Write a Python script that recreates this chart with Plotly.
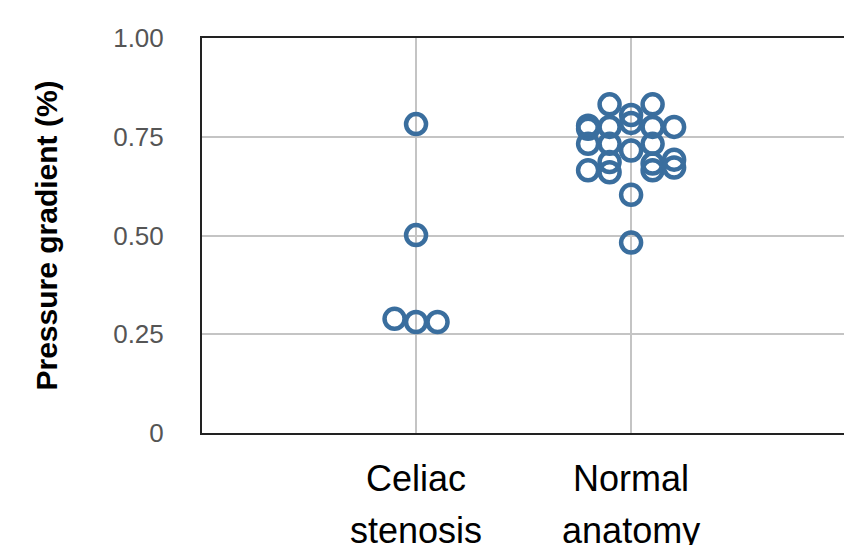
import plotly.graph_objects as go

# ---- data ----
categories = ["Celiac", "Normal"]
categories_line2 = ["stenosis", "anatomy"]

celiac_values = [0.782, 0.501, 0.289, 0.281, 0.281]
celiac_slots = [0, 0, -1, 0, 1]

normal_values = [0.805, 0.785, 0.715, 0.603, 0.482,
                 0.832, 0.775, 0.732, 0.686, 0.660,
                 0.832, 0.775, 0.732, 0.682, 0.665,
                 0.778, 0.770, 0.732, 0.665,
                 0.775, 0.692, 0.672]
normal_slots = [0, 0, 0, 0, 0,
                -1, -1, -1, -1, -1,
                1, 1, 1, 1, 1,
                -2, -2, -2, -2,
                2, 2, 2]

y_ticks = [0, 0.25, 0.5, 0.75, 1.0]
y_ticklabels = ["0", "0.25", "0.50", "0.75", "1.00"]

SLOT_W = 0.1
COLOR = "#3a6e9e"

fig = go.Figure()
for i, (vals, slots) in enumerate([(celiac_values, celiac_slots), (normal_values, normal_slots)]):
    fig.add_trace(go.Scatter(
        x=[i + 1 + s * SLOT_W for s in slots],
        y=vals,
        mode="markers",
        marker=dict(symbol="circle-open", size=20, color=COLOR, line=dict(width=4.5, color=COLOR)),
        showlegend=False,
        hoverinfo="y",
    ))

ticktext = [f"<span style='font-size:36px'>{a}</span><br><span style='font-size:36px'>{b}</span>"
            for a, b in zip(categories, categories_line2)]

fig.update_layout(
    width=844, height=545, autosize=False,
    margin=dict(l=202, r=0, t=38, b=112),
    plot_bgcolor="white", paper_bgcolor="white",
    font=dict(family="Liberation Sans, Arial, sans-serif"),
    xaxis=dict(
        range=[0.0047, 2.99],
        tickmode="array", tickvals=[1, 2], ticktext=ticktext,
        tickfont=dict(size=40, color="black"),
        showgrid=True, gridcolor="#c4c4c4", gridwidth=1.5,
        showline=True, linecolor="#222", linewidth=2, mirror=True,
        ticks="", ticklabelstandoff=8,
        zeroline=False, automargin=False,
    ),
    yaxis=dict(
        range=[0, 1],
        tickmode="array", tickvals=y_ticks, ticktext=y_ticklabels,
        tickfont=dict(size=26, color="#555"),
        showgrid=True, gridcolor="#c4c4c4", gridwidth=1.5,
        showline=True, linecolor="#222", linewidth=2,
        ticks="", ticklabelstandoff=31,
        zeroline=False, automargin=False,
        title=dict(text="<b>Pressure gradient (%)</b>", font=dict(size=30, color="black"), standoff=47),
    ),
)

fig.write_html(
    "out.html",
    config={"displayModeBar": False, "responsive": False},
    post_script="document.body.style.margin='0';",
)
